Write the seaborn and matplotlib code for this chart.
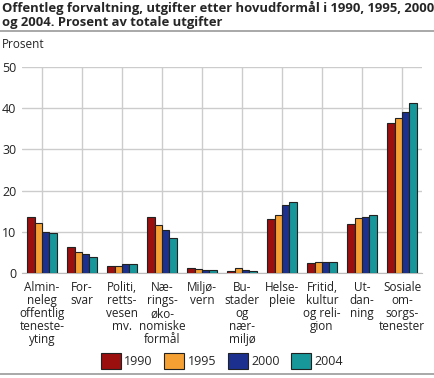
import matplotlib
matplotlib.use("Agg")
import matplotlib.pyplot as plt
import seaborn as sns
import pandas as pd

categories = ["Almin-\nneleg\noffentlig\nteneste-\nyting", "For-\nsvar", "Politi,\nretts-\nvesen\nmv.",
              "Næ-\nrings-\nøko-\nnomiske\nformål", "Miljø-\nvern", "Bu-\nstader\nog\nnær-\nmiljø",
              "Helse-\npleie", "Fritid,\nkultur\nog reli-\ngion", "Ut-\ndan-\nning", "Sosiale\nom-\nsorgs-\ntenester"]
years = ["1990", "1995", "2000", "2004"]
v1990 = [13.7, 6.2, 1.6, 13.7, 1.2, 0.5, 13.0, 2.4, 12.0, 36.3]
v1995 = [12.2, 5.0, 1.7, 11.6, 1.0, 1.3, 14.0, 2.6, 13.3, 37.6]
v2000 = [9.9, 4.7, 2.3, 10.4, 0.8, 0.7, 16.4, 2.6, 13.7, 39.0]
v2004 = [9.6, 3.9, 2.3, 8.4, 0.7, 0.6, 17.2, 2.6, 14.1, 41.3]
yticks = [0, 10, 20, 30, 40, 50]
colors = ["#9b0f0f", "#f5a033", "#1c318f", "#17979a"]

rows = []
for yr, vals in zip(years, [v1990, v1995, v2000, v2004]):
    for c, v in zip(categories, vals):
        rows.append({"kat": c, "aar": yr, "verdi": v})
df = pd.DataFrame(rows)

sns.set_style("white")
plt.rcParams["font.family"] = ["Open Sans", "DejaVu Sans"]

fig = plt.figure(figsize=(4.35, 3.78), dpi=100)
ax = fig.add_axes([22/435, 1-273/378, 400/435, 206/378])

sns.barplot(data=df, x="kat", y="verdi", hue="aar", palette=colors, width=0.74, saturation=1,
            edgecolor="#222222", linewidth=0.8, ax=ax, zorder=3)

ax.set_ylim(0, 50)
ax.set_xlim(-0.5, 9.5)
ax.set_yticks(yticks)
ax.set_xlabel("")
ax.set_ylabel("")
ax.grid(True, color="#cccccc", linewidth=1.0, zorder=0)
ax.set_axisbelow(True)
for s in ["top", "right", "left"]:
    ax.spines[s].set_visible(False)
ax.spines["bottom"].set_color("#bbbbbb")
ax.tick_params(axis="both", length=0, labelsize=9, colors="#222222")
ax.tick_params(axis="x", pad=6)
ax.tick_params(axis="y", pad=4)
for lab in ax.get_xticklabels():
    lab.set_linespacing(1.0)
    lab.set_fontsize(8.5)

ax.legend(loc="upper center", bbox_to_anchor=(0.5, -0.335), ncol=4, frameon=False,
          fontsize=9, handlelength=1.6, handleheight=1.5, columnspacing=0.9, handletextpad=0.3)

fig.text(0.005, 0.997, "Offentleg forvaltning, utgifter etter hovudformål i 1990, 1995, 2000\nog 2004. Prosent av totale utgifter",
         ha="left", va="top", fontsize=9.4, fontweight="bold", linespacing=1.08)
fig.add_artist(plt.Line2D([0, 1], [1-31/378, 1-31/378], color="#999999", linewidth=1.2))
fig.add_artist(plt.Line2D([0, 1], [1-374/378, 1-374/378], color="#999999", linewidth=1.2))
fig.text(0.005, 1-44/378, "Prosent", ha="left", va="center", fontsize=8.5)

fig.savefig("out.png", dpi=100)
